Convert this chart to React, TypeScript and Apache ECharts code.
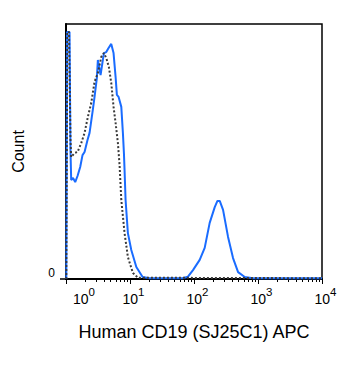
import React, { useEffect, useRef } from "react";
import * as echarts from "echarts";

// x values are decades (log10 of APC intensity), y values are % of max count
const cd19X = [0.005, 0.016, 0.055, 0.07, 0.081, 0.11, 0.144, 0.18, 0.222, 0.258, 0.29, 0.336, 0.368, 0.419, 0.446, 0.482, 0.498, 0.54, 0.592, 0.629, 0.665, 0.707, 0.743, 0.775, 0.795, 0.822, 0.864, 0.889, 0.905, 0.915, 0.931, 0.967, 1.02, 1.099, 1.197, 1.307, 1.823, 1.906, 1.984, 2.089, 2.167, 2.245, 2.324, 2.366, 2.402, 2.454, 2.532, 2.61, 2.689, 2.793, 2.92, 4.0];
const cd19Y = [0, 96.9, 96.9, 50.6, 38.8, 39.6, 38.0, 40.4, 43.9, 48.6, 49.8, 54.5, 57.3, 66.3, 71.4, 78.8, 85.9, 80.0, 88.6, 89.0, 90.6, 92.2, 88.6, 79.2, 72.2, 71.4, 67.5, 57.3, 49.4, 42.7, 31.0, 18.0, 11.4, 4.7, 0.8, 0.3, 0.3, 0.9, 3.5, 7.5, 12.2, 22.0, 28.2, 30.6, 30.6, 27.1, 16.5, 8.2, 2.7, 0.8, 0.3, 0.3];

const isoX = [0.005, 0.02, 0.047, 0.07, 0.081, 0.133, 0.18, 0.238, 0.29, 0.341, 0.394, 0.446, 0.498, 0.551, 0.592, 0.629, 0.67, 0.707, 0.743, 0.775, 0.811, 0.837, 0.864, 0.915, 0.967, 1.045, 1.124, 4.0];
const isoY = [0, 96.9, 96.9, 54.5, 47.8, 49.4, 49.8, 53.3, 57.3, 63.5, 69.0, 77.3, 80.8, 87.1, 88.6, 86.7, 83.1, 76.9, 67.5, 61.2, 53.3, 44.7, 31.0, 18.0, 8.6, 2.4, 0.5, 0.3];

const decades = [0, 1, 2, 3, 4];
const decadeLabels = ["0", "1", "2", "3", "4"];
const minorMultipliers = [2, 3, 4, 5, 6, 7, 8, 9];
const yLabels = [0];

const xTitle = "Human CD19 (SJ25C1) APC";
const yTitle = "Count";

const FONT = "'Liberation Sans', Arial, sans-serif";

export default function App() {
  const ref = useRef<HTMLDivElement>(null);
  useEffect(() => {
    document.body.style.margin = "0";
    if (!ref.current) return;
    const chart = echarts.init(ref.current, null, { renderer: "svg" });
    const minorTicks: number[] = [];
    decades.slice(0, -1).forEach((d) =>
      minorMultipliers.forEach((m) => minorTicks.push(d + Math.log10(m)))
    );
    chart.setOption({
      animation: false,
      backgroundColor: "#fff",
      grid: {
        left: 66,
        top: 24,
        right: 38,
        bottom: 93,
        show: true,
        borderColor: "#000",
        borderWidth: 1.5,
      },
      xAxis: [
        {
          type: "value",
          min: 0,
          max: 4,
          interval: 1,
          name: xTitle,
          nameLocation: "middle",
          nameGap: 44,
          nameTextStyle: { fontFamily: FONT, fontSize: 18, color: "#000" },
          axisLine: { show: true, onZero: false, lineStyle: { color: "#000", width: 2 } },
          axisTick: { show: true, length: 5, lineStyle: { color: "#000", width: 1 } },
          splitLine: { show: false },
          axisLabel: {
            margin: 7,
            alignMinLabel: "left",
            hideOverlap: false,
            showMinLabel: true,
            showMaxLabel: true,
            formatter: (v: number) => {
              const i = decades.indexOf(Math.round(v));
              return "{p|}{b|10}{s|" + decadeLabels[i] + "}";
            },
            rich: {
              p: { width: 7, lineHeight: 11, verticalAlign: "top" },
              b: {
                fontFamily: FONT,
                fontSize: 14,
                color: "#000",
                lineHeight: 26,
              },
              s: {
                fontFamily: FONT,
                fontSize: 11.5,
                color: "#000",
                lineHeight: 12,
                verticalAlign: "top",
              },
            },
          },
        },
        {
          type: "value",
          min: 0,
          max: 4,
          position: "bottom",
          axisLine: { show: false },
          axisLabel: { show: false },
          splitLine: { show: false },
          axisTick: {
            show: true,
            length: 3,
            customValues: minorTicks,
            lineStyle: { color: "#000", width: 1 },
          },
        },
      ],
      yAxis: {
        type: "value",
        min: 0,
        max: 100,
        interval: 100,
        name: yTitle,
        nameLocation: "middle",
        nameGap: 40,
        nameTextStyle: { fontFamily: FONT, fontSize: 16, color: "#000" },
        axisLine: { show: true, lineStyle: { color: "#000", width: 2 } },
        axisTick: { show: true, length: 6, customValues: yLabels, lineStyle: { color: "#000", width: 1.5 } },
        splitLine: { show: false },
        axisLabel: {
          customValues: yLabels,
          margin: 11,
          fontFamily: FONT,
          fontSize: 12,
          color: "#000",
          verticalAlign: "bottom",
          lineHeight: 12,
        },
      },
      series: [
        {
          type: "line",
          data: cd19X.map((x, i) => [x, cd19Y[i]]),
          showSymbol: false,
          lineStyle: { color: "#1a6cff", width: 2 },
          z: 2,
        },
        {
          type: "line",
          data: isoX.map((x, i) => [x, isoY[i]]),
          showSymbol: false,
          lineStyle: { color: "#3a3a3a", width: 2, type: [2, 2] },
          z: 3,
        },
      ],
    });
    return () => chart.dispose();
  }, []);
  return <div ref={ref} style={{ width: 360, height: 372 }} />;
}
